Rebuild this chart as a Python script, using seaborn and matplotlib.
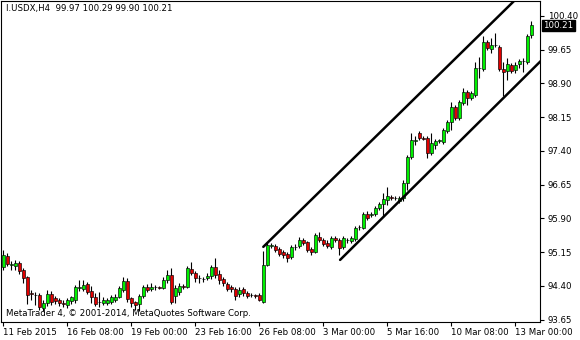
import numpy as np
import pandas as pd
import matplotlib
matplotlib.use("Agg")
import matplotlib.pyplot as plt
import seaborn as sns
from matplotlib.transforms import blended_transform_factory

# ---------------- data (I.USDX, H4) ----------------
opens = [
    94.82, 95.07, 94.87, 94.85, 94.91, 94.76, 94.60, 94.24, 94.20, 94.20,
    93.91, 94.02, 94.22, 94.13, 94.09, 94.02, 93.98, 94.07, 94.09, 94.36,
    94.33, 94.44, 94.29, 94.16, 94.04, 94.02, 94.02, 94.04, 94.09, 94.16,
    94.31, 94.51, 94.13, 94.04, 94.00, 94.18, 94.38, 94.33, 94.37, 94.38,
    94.36, 94.53, 94.64, 94.18, 94.27, 94.40, 94.38, 94.78, 94.69, 94.58,
    94.56, 94.58, 94.62, 94.82, 94.67, 94.56, 94.44, 94.38, 94.33, 94.22,
    94.33, 94.24, 94.20, 94.19, 94.20, 94.04, 94.87, 95.29, 95.29, 95.22,
    95.16, 95.11, 95.04, 95.27, 95.29, 95.42, 95.38, 95.22, 95.16, 95.49,
    95.42, 95.36, 95.27, 95.47, 95.42, 95.27, 95.42, 95.40, 95.44, 95.71,
    95.69, 96.00, 95.98, 96.00, 96.13, 96.22, 96.31, 96.38, 96.36, 96.29,
    96.36, 96.69, 97.27, 97.62, 97.80, 97.69, 97.69, 97.36, 97.53, 97.62,
    97.60, 97.84, 98.04, 98.38, 98.13, 98.47, 98.71, 98.58, 98.64, 99.24,
    99.22, 99.82, 99.67, 99.76, 99.71, 99.22, 99.18, 99.31, 99.20, 99.33,
    99.40, 99.38, 99.97]
highs = [
    95.20, 95.13, 94.96, 94.98, 94.96, 94.80, 94.62, 94.31, 94.27, 94.24,
    94.09, 94.31, 94.29, 94.18, 94.13, 94.09, 94.13, 94.18, 94.42, 94.53,
    94.53, 94.49, 94.40, 94.24, 94.27, 94.16, 94.13, 94.20, 94.22, 94.40,
    94.60, 94.58, 94.16, 94.07, 94.22, 94.42, 94.44, 94.47, 94.42, 94.40,
    94.60, 94.76, 94.80, 94.42, 94.47, 94.44, 94.84, 94.93, 94.73, 94.64,
    94.60, 94.69, 94.87, 95.02, 94.76, 94.60, 94.49, 94.42, 94.38, 94.38,
    94.38, 94.29, 94.24, 94.22, 94.24, 95.18, 95.36, 95.36, 95.33, 95.27,
    95.20, 95.16, 95.31, 95.33, 95.49, 95.47, 95.40, 95.27, 95.58, 95.60,
    95.47, 95.42, 95.51, 95.51, 95.47, 95.51, 95.47, 95.51, 95.73, 95.76,
    96.04, 96.07, 96.04, 96.18, 96.27, 96.47, 96.60, 96.42, 96.40, 96.40,
    96.76, 97.31, 97.80, 97.73, 97.84, 97.73, 97.73, 97.80, 97.67, 97.67,
    97.91, 98.09, 98.49, 98.42, 98.53, 98.80, 98.76, 98.73, 99.38, 99.49,
    99.96, 99.87, 99.91, 100.02, 99.76, 99.38, 99.47, 99.36, 99.38, 99.44,
    99.47, 100.00, 100.29]
lows = [
    94.76, 94.84, 94.76, 94.76, 94.67, 94.47, 94.00, 94.09, 93.98, 93.87,
    93.84, 93.96, 93.98, 94.00, 93.96, 93.93, 93.91, 94.00, 94.02, 94.29,
    94.29, 94.22, 94.02, 93.96, 93.93, 93.98, 93.98, 94.00, 94.04, 94.13,
    94.27, 94.04, 93.93, 93.87, 93.84, 94.13, 94.27, 94.29, 94.31, 94.33,
    94.33, 94.47, 94.00, 94.02, 94.20, 94.33, 94.36, 94.64, 94.49, 94.47,
    94.49, 94.53, 94.56, 94.58, 94.44, 94.40, 94.29, 94.27, 94.09, 94.16,
    94.18, 94.13, 94.16, 94.13, 94.07, 94.02, 94.84, 95.24, 95.16, 95.07,
    95.02, 94.93, 95.00, 95.20, 95.24, 95.31, 95.16, 95.09, 95.13, 95.38,
    95.29, 95.24, 95.22, 95.38, 95.09, 95.22, 95.36, 95.36, 95.40, 95.64,
    95.67, 95.87, 95.93, 95.96, 96.09, 95.93, 96.20, 96.31, 96.31, 96.24,
    96.29, 96.53, 97.22, 97.53, 97.64, 97.64, 97.24, 97.31, 97.44, 97.58,
    97.56, 97.80, 97.87, 98.09, 98.09, 98.42, 98.42, 98.53, 98.60, 99.02,
    99.18, 99.64, 99.58, 99.71, 99.18, 98.62, 98.98, 99.13, 99.13, 99.24,
    99.16, 99.33, 99.90]
closes = [
    95.09, 94.89, 94.89, 94.91, 94.73, 94.58, 94.20, 94.22, 94.21, 93.93,
    94.02, 94.22, 94.04, 94.07, 94.02, 94.00, 94.09, 94.16, 94.38, 94.38,
    94.42, 94.27, 94.16, 94.00, 94.04, 94.09, 94.09, 94.16, 94.16, 94.36,
    94.51, 94.11, 94.02, 93.98, 94.18, 94.38, 94.31, 94.38, 94.38, 94.36,
    94.53, 94.64, 94.04, 94.36, 94.40, 94.38, 94.80, 94.69, 94.58, 94.58,
    94.56, 94.62, 94.82, 94.64, 94.53, 94.47, 94.33, 94.33, 94.18, 94.31,
    94.24, 94.18, 94.20, 94.18, 94.09, 94.87, 95.31, 95.31, 95.20, 95.11,
    95.09, 95.02, 95.27, 95.27, 95.42, 95.36, 95.20, 95.16, 95.53, 95.42,
    95.33, 95.29, 95.47, 95.42, 95.24, 95.47, 95.42, 95.47, 95.69, 95.71,
    96.00, 95.91, 96.00, 96.13, 96.22, 96.33, 96.40, 96.36, 96.36, 96.36,
    96.69, 97.27, 97.64, 97.64, 97.69, 97.67, 97.36, 97.58, 97.62, 97.64,
    97.87, 98.04, 98.38, 98.13, 98.49, 98.71, 98.58, 98.69, 99.24, 99.24,
    99.82, 99.69, 99.76, 99.76, 99.22, 99.16, 99.33, 99.18, 99.31, 99.40,
    99.40, 99.96, 100.21]

tick_bars = [0, 16, 32, 48, 64, 80, 96, 112, 128]
tick_labels = ["11 Feb 2015", "16 Feb 08:00", "19 Feb 00:00", "23 Feb 16:00",
               "26 Feb 08:00", "3 Mar 00:00", "5 Mar 16:00", "10 Mar 08:00",
               "13 Mar 00:00"]
price_ticks = [93.65, 94.40, 95.15, 95.90, 96.65, 97.40, 98.15, 98.90, 99.65, 100.40]

# channel trend lines (bar index, price)
upper_bars = [65, 128]
upper_prices = [95.27, 100.76]
lower_bars = [84.2, 134.6]
lower_prices = [94.98, 99.42]

title = "I.USDX,H4  99.97 100.29 99.90 100.21"
last_price = 100.21
watermark = "MetaTrader 4, \u00a9 2001-2014, MetaQuotes Software Corp."

# ---------------- figure ----------------
sns.set_theme(style="white")
plt.rcParams["font.family"] = ["DejaVu Sans"]
FS = 6.2

W, H = 580, 340
fig = plt.figure(figsize=(W / 100, H / 100), dpi=100)
fig.patch.set_facecolor("white")
ax = fig.add_axes([1.0 / W, 18.0 / H, 539.0 / W, 321.5 / H])
ax.set_facecolor("white")

df = pd.DataFrame({"bar": np.arange(len(opens)), "open": opens, "high": highs,
                   "low": lows, "close": closes})
up = df["close"] >= df["open"]

ax.vlines(df["bar"], df["low"], df["high"], color="black", lw=0.8, zorder=2)
ax.bar(df["bar"][up], (df["close"] - df["open"])[up], bottom=df["open"][up],
       width=0.68, color="#00F000", edgecolor="black", linewidth=0.45, zorder=3)
ax.bar(df["bar"][~up], (df["open"] - df["close"])[~up], bottom=df["close"][~up],
       width=0.68, color="#E00000", edgecolor="black", linewidth=0.45, zorder=3)

chan = pd.DataFrame({
    "bar": upper_bars + lower_bars,
    "price": upper_prices + lower_prices,
    "line": ["upper", "upper", "lower", "lower"],
})
sns.lineplot(data=chan, x="bar", y="price", units="line", estimator=None,
             color="black", lw=1.8, ax=ax, zorder=4)

ax.set_xlim(-0.575, 134.175)
ax.set_ylim(93.60, 100.744)
ax.set_xlabel("")
ax.set_ylabel("")

ax.set_xticks(tick_bars)
ax.set_xticklabels(tick_labels)
for lab in ax.get_xticklabels():
    lab.set_ha("left")
ax.set_yticks(price_ticks)
ax.set_yticklabels([f"{p:.2f}" for p in price_ticks])

ax.tick_params(axis="x", bottom=True, top=False, length=3, width=0.8,
               pad=1.5, labelsize=FS, colors="black", direction="out")
ax.tick_params(axis="y", left=False, right=True, labelleft=False,
               labelright=True, length=3, width=0.8, pad=2.5,
               labelsize=FS, colors="black", direction="out")
for s in ax.spines.values():
    s.set_color("black")
    s.set_linewidth(0.8)

tr = blended_transform_factory(ax.transAxes, ax.transData)
ax.text(1.0 + 3.5 / 539, last_price - 0.02, f"{last_price:.2f}", transform=tr,
        ha="left", va="center", color="white", fontsize=FS, zorder=6,
        bbox=dict(boxstyle="square,pad=0.12", fc="black", ec="black"),
        clip_on=False)

fig.text(6.0 / W, 1 - 8.0 / H, title, ha="left", va="center",
         fontsize=FS, color="black")
fig.text(6.0 / W, 1 - 313.0 / H, watermark, ha="left", va="center",
         fontsize=FS, color="black")

fig.savefig("out.png", dpi=100)
